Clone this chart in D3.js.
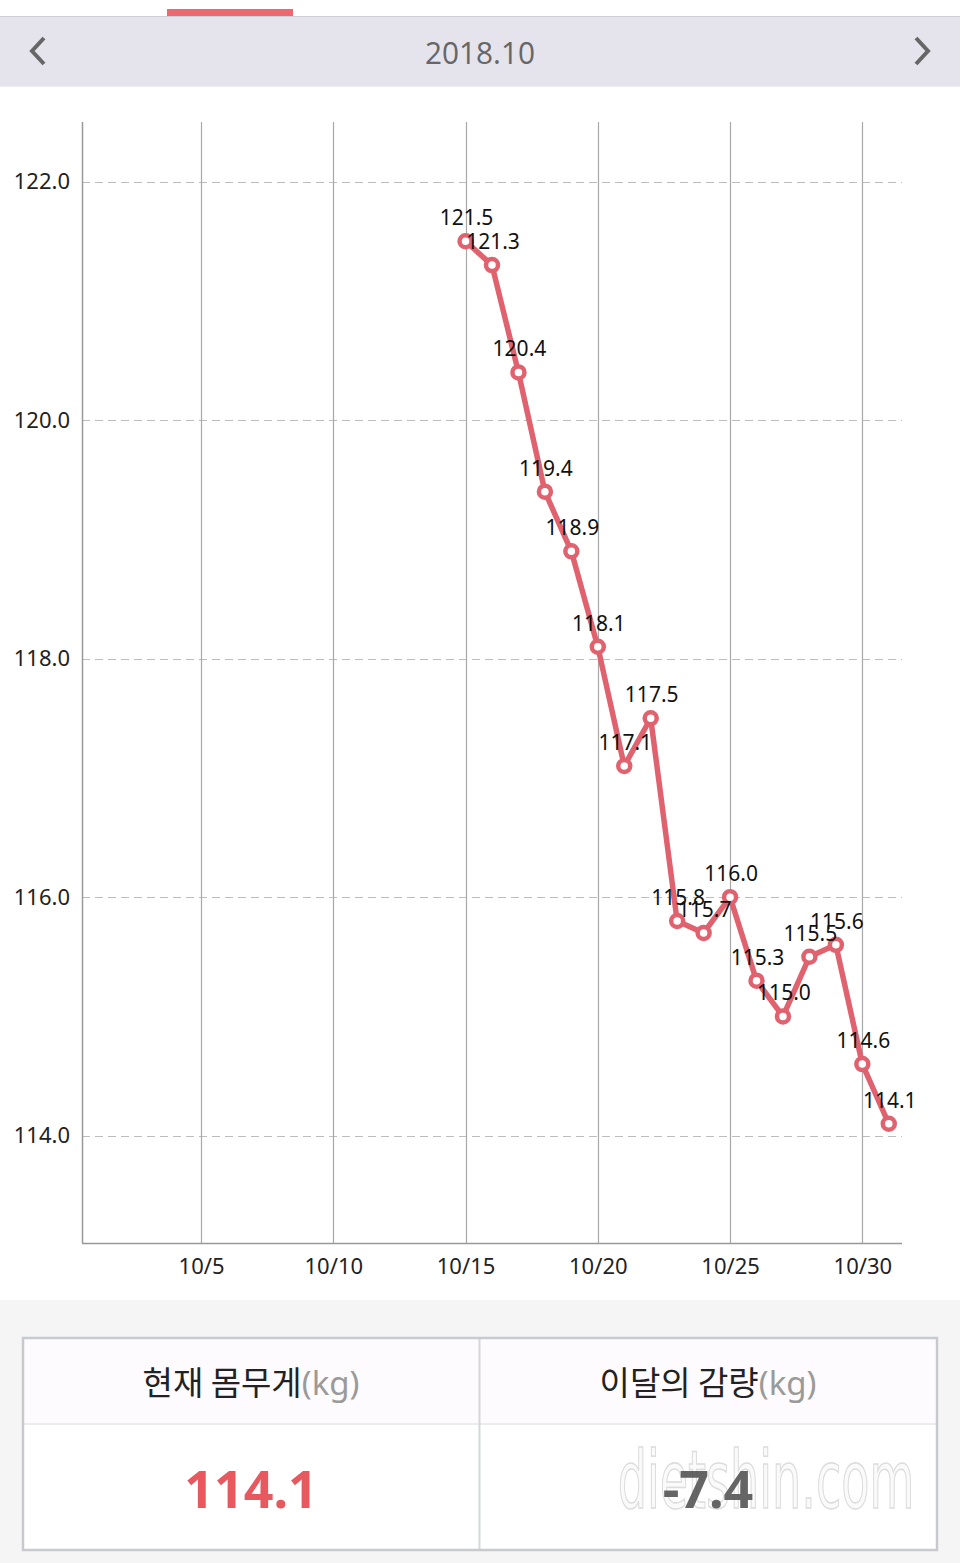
<!DOCTYPE html>
<html><head><meta charset="utf-8">
<script src="https://cdn.jsdelivr.net/npm/d3@7"></script>
<style>
html,body{margin:0;padding:0;background:#fff;}
svg{display:block;font-family:"Noto Sans","Open Sans",sans-serif;}
</style></head>
<body>
<svg id="c" width="960" height="1563"></svg>
<script>
const monthTitle = "2018.10";
const days = [15,16,17,18,19,20,21,22,23,24,25,26,27,28,29,30,31];
const weights = [121.5,121.3,120.4,119.4,118.9,118.1,117.1,117.5,115.8,115.7,116.0,115.3,115.0,115.5,115.6,114.6,114.1];
const yTicks = [114,116,118,120,122];
const xTicks = [5,10,15,20,25,30];
const summaryHeaders = ["현재 몸무게","이달의 감량"];
const summaryValues = ["114.1","-7.4"];

const svg = d3.select("#c");
const W = 960;

svg.append("rect").attr("x",0).attr("y",0).attr("width",W).attr("height",1563).attr("fill","#fff");
svg.append("rect").attr("x",167).attr("y",9).attr("width",126).attr("height",7).attr("fill","#ec6a6f");
svg.append("rect").attr("x",0).attr("y",16).attr("width",W).attr("height",71).attr("fill","#e5e3ec");
svg.append("line").attr("x1",0).attr("x2",W).attr("y1",16.5).attr("y2",16.5).attr("stroke","#cfcdd6");
svg.append("line").attr("x1",0).attr("x2",W).attr("y1",86.5).attr("y2",86.5).attr("stroke","#eeedf2");
svg.append("text").attr("x",480).attr("y",64).attr("text-anchor","middle")
  .attr("font-size",31).attr("fill","#666").attr("font-family","'Open Sans','Noto Sans',sans-serif")
  .attr("transform","translate(480,0) scale(0.96,1) translate(-480,0)").text(monthTitle);
svg.append("polyline").attr("points","44,38 32,51 44,64").attr("fill","none").attr("stroke","#666").attr("stroke-width",4);
svg.append("polyline").attr("points","916,38 928,51 916,64").attr("fill","none").attr("stroke","#666").attr("stroke-width",4);

const L = 82, R = 902, T = 122, B = 1243;
const x = d3.scaleLinear().domain([0.5,31.5]).range([L,R]);
const y = d3.scaleLinear().domain([113.1,122.5]).range([B,T]);

const g = svg.append("g");
g.selectAll(".hg").data(yTicks).join("line")
  .attr("x1",L).attr("x2",R).attr("y1",d=>Math.round(y(d))+0.5).attr("y2",d=>Math.round(y(d))+0.5)
  .attr("stroke","#bdbdbd").attr("stroke-width",1.2).attr("stroke-dasharray","8,5");
g.selectAll(".vg").data(xTicks).join("line")
  .attr("x1",d=>Math.round(x(d))+0.5).attr("x2",d=>Math.round(x(d))+0.5).attr("y1",T).attr("y2",B)
  .attr("stroke","#a8a8a8").attr("stroke-width",1.2);
g.append("line").attr("x1",L+0.5).attr("x2",L+0.5).attr("y1",T).attr("y2",B).attr("stroke","#999").attr("stroke-width",1.5);
g.append("line").attr("x1",L).attr("x2",R).attr("y1",B+0.5).attr("y2",B+0.5).attr("stroke","#999").attr("stroke-width",1.5);

const ya = d3.axisLeft(y).tickValues(yTicks).tickFormat(d3.format(".1f")).tickSize(0).tickPadding(12);
const yg = svg.append("g").attr("transform",`translate(${L},0)`).call(ya);
yg.select(".domain").remove();
yg.selectAll("text").attr("font-size",22).attr("fill","#222").attr("font-family","'Noto Sans',sans-serif");

const xa = d3.axisBottom(x).tickValues(xTicks).tickFormat(d=>"10/"+d).tickSize(0).tickPadding(15);
const xg = svg.append("g").attr("transform",`translate(0,${B})`).call(xa);
xg.select(".domain").remove();
xg.selectAll("text").attr("font-size",22).attr("fill","#222").attr("font-family","'Noto Sans',sans-serif");

const data = days.map((d,i)=>({d, w:weights[i]}));
const red = "#e0626e";
svg.append("path").datum(data)
  .attr("d", d3.line().x(p=>x(p.d)).y(p=>y(p.w)))
  .attr("fill","none").attr("stroke",red).attr("stroke-width",5.5).attr("stroke-linejoin","round");
svg.selectAll(".pt").data(data).join("circle")
  .attr("cx",p=>x(p.d)).attr("cy",p=>y(p.w)).attr("r",6)
  .attr("fill","#fff").attr("stroke",red).attr("stroke-width",4.5);
svg.selectAll(".lb").data(data).join("text")
  .attr("x",p=>x(p.d)+1).attr("y",p=>y(p.w)-16).attr("text-anchor","middle")
  .attr("font-size",21).attr("fill","#111").attr("font-family","'Noto Sans',sans-serif")
  .text(p=>p.w.toFixed(1));

svg.append("rect").attr("x",0).attr("y",1300).attr("width",W).attr("height",263).attr("fill","#f5f5f6");
const tx = 23, tw = 914, ty = 1338, th = 212, hh = 86;
svg.append("rect").attr("x",tx).attr("y",ty).attr("width",tw).attr("height",th).attr("fill","#fff");
svg.append("rect").attr("x",tx).attr("y",ty).attr("width",tw).attr("height",hh).attr("fill","#fdfbfd");
svg.append("line").attr("x1",tx).attr("x2",tx+tw).attr("y1",ty+hh).attr("y2",ty+hh).attr("stroke","#e6e6e8").attr("stroke-width",1.5);
svg.append("line").attr("x1",479.5).attr("x2",479.5).attr("y1",ty).attr("y2",ty+th).attr("stroke","#d4d6d8").attr("stroke-width",2);
svg.append("rect").attr("x",tx).attr("y",ty).attr("width",tw).attr("height",th).attr("fill","none").attr("stroke","#c8cacd").attr("stroke-width",2.5);

const cx = [251, 708];
summaryHeaders.forEach((h,i)=>{
  const t = svg.append("text").attr("x",cx[i]).attr("y",1395).attr("text-anchor","middle")
    .attr("font-size",33).attr("font-family","'Noto Sans CJK KR','Noto Sans',sans-serif");
  t.append("tspan").attr("fill","#222").text(h);
  t.append("tspan").attr("fill","#9a9a9a").attr("font-family","'Noto Sans',sans-serif").text("(kg)");
});
svg.append("text").attr("x",766).attr("y",1508).attr("text-anchor","middle")
  .attr("font-size",80).attr("font-family","'DejaVu Sans Condensed','Liberation Sans Narrow',sans-serif")
  .attr("transform","translate(766,0) scale(0.64,1) translate(-766,0)")
  .attr("fill","#fafafa").attr("stroke","#dcdcdc").attr("stroke-width",1.5).text("dietshin.com");
svg.append("text").attr("x",cx[0]).attr("y",1508).attr("text-anchor","middle")
  .attr("font-size",52).attr("font-weight","bold").attr("fill","#e7595f").text(summaryValues[0]);
svg.append("text").attr("x",cx[1]).attr("y",1508).attr("text-anchor","middle")
  .attr("font-size",52).attr("font-weight","bold").attr("fill","#555").attr("opacity",0.9).text(summaryValues[1]);
</script>
</body></html>
